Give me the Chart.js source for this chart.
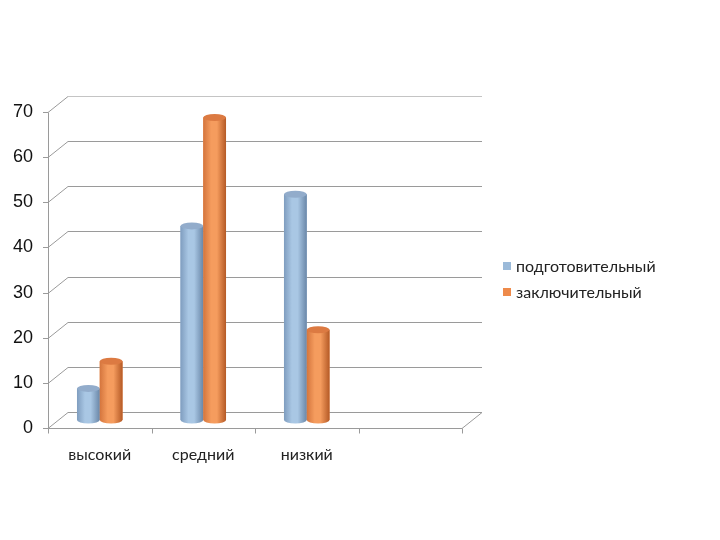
<!DOCTYPE html>
<html>
<head>
<meta charset="utf-8">
<script src="https://cdn.jsdelivr.net/npm/chart.js@4"></script>
<style>
  html, body { margin: 0; padding: 0; background: #fff; }
  #wrap { width: 720px; height: 540px; }
</style>
</head>
<body>
<div id="wrap"><canvas id="levelsChart"></canvas></div>
<script>
// data
const categories = ['высокий', 'средний', 'низкий', ''];
const seriesNames = ['подготовительный', 'заключительный'];
const prepValues = [7, 43, 50, null];
const finalValues = [13, 67, 20, null];
const yTicks = [0, 10, 20, 30, 40, 50, 60, 70];

// cylinder shading: left edge, highlight, right edge, top cap
const shades = [
    ['#7f9dbf', '#a9c7e4', '#6a87a8', '#92accb'],
    ['#d4753d', '#f59c5e', '#b55a26', '#dc7a42']
];
const DX = 10, DY = 8;  // half depth of the 3d box

function drawCylinder(ctx, x, top, base, w, c) {
    const l = x - w / 2, r = x + w / 2, ry = 3.5;
    const g = ctx.createLinearGradient(l, 0, r, 0);
    g.addColorStop(0, c[0]);
    g.addColorStop(0.35, c[1]);
    g.addColorStop(0.6, c[1]);
    g.addColorStop(1, c[2]);
    ctx.fillStyle = g;
    ctx.beginPath();
    ctx.moveTo(l, top);
    ctx.lineTo(l, base);
    ctx.ellipse(x, base, w / 2, ry, 0, Math.PI, 0, true);
    ctx.lineTo(r, top);
    ctx.closePath();
    ctx.fill();
    ctx.fillStyle = c[3];
    ctx.beginPath();
    ctx.ellipse(x, top, w / 2, ry, 0, 0, Math.PI * 2);
    ctx.fill();
}

const box3d = {
    id: 'box3d',
    beforeDatasetsDraw(chart) {
        const ctx = chart.ctx, y = chart.scales.y, a = chart.chartArea;
        ctx.save();
        ctx.lineWidth = 1;
        yTicks.forEach(v => {
            const py = Math.round(y.getPixelForValue(v)) + 0.5;
            ctx.strokeStyle = v === 70 ? '#c4c4c4' : '#9a9a9a';
            ctx.beginPath();
            ctx.moveTo(a.left + 2 * DX, py - DY);
            ctx.lineTo(a.right + 2 * DX, py - DY);
            ctx.stroke();
            ctx.strokeStyle = '#9a9a9a';
            ctx.beginPath();
            ctx.moveTo(a.left, py + DY);
            ctx.lineTo(a.left + 2 * DX, py - DY);
            ctx.moveTo(a.left - 5, py + DY);
            ctx.lineTo(a.left, py + DY);
            ctx.stroke();
        });
        const y0 = Math.round(y.getPixelForValue(0)) + 0.5;
        const yTop = Math.round(y.getPixelForValue(70)) + 0.5;
        const lx = Math.round(a.left) + 0.5;
        ctx.strokeStyle = '#9a9a9a';
        ctx.beginPath();
        ctx.moveTo(lx, yTop + DY);
        ctx.lineTo(lx, y0 + DY);
        ctx.lineTo(a.right, y0 + DY);
        ctx.lineTo(a.right + 2 * DX, y0 - DY);
        ctx.stroke();
        const step = (a.right - a.left) / categories.length;
        for (let i = 0; i <= categories.length; i++) {
            const tx = Math.round(a.left + i * step) + 0.5;
            ctx.beginPath();
            ctx.moveTo(tx, y0 + DY);
            ctx.lineTo(tx, y0 + DY + 5);
            ctx.stroke();
        }
        ctx.restore();
    },
    afterDatasetsDraw(chart) {
        const ctx = chart.ctx;
        ctx.save();
        chart.data.datasets.forEach((ds, i) => {
            chart.getDatasetMeta(i).data.forEach((bar, j) => {
                if (ds.data[j] == null) return;
                const p = bar.getProps(['x', 'y', 'base', 'width'], true);
                drawCylinder(ctx, p.x, p.y, p.base, p.width, shades[i]);
            });
        });
        ctx.restore();
    },
    afterDraw(chart) {
        const ctx = chart.ctx;
        ctx.save();
        ctx.font = '16px Lato';
        ctx.textBaseline = 'middle';
        chart.data.datasets.forEach((ds, i) => {
            const ly = 266 + i * 26;
            ctx.fillStyle = ds.backgroundColor;
            ctx.fillRect(503, ly - 4, 8, 8);
            ctx.fillStyle = '#222';
            ctx.fillText(ds.label, 516, ly + 1);
        });
        ctx.restore();
    }
};

new Chart(document.getElementById('levelsChart'), {
    type: 'bar',
    data: {
        labels: categories,
        datasets: [
            { label: seriesNames[0], data: prepValues, backgroundColor: '#9bbad9' },
            { label: seriesNames[1], data: finalValues, backgroundColor: '#ee8a4a' }
        ]
    },
    options: {
        responsive: true,
        maintainAspectRatio: false,
        animation: false,
        layout: { padding: { top: 104, right: 258, bottom: 0, left: 0 } },
        categoryPercentage: 0.44,
        barPercentage: 1,
        plugins: { legend: { display: false }, tooltip: { enabled: false } },
        scales: {
            x: {
                grid: { display: false, drawTicks: false },
                border: { display: false },
                ticks: { color: '#222', font: { family: 'Lato', size: 16 }, padding: 25, maxRotation: 0 },
                afterFit: s => { s.height = 120; }
            },
            y: {
                min: 0, max: 70,
                grid: { display: false, drawTicks: false },
                border: { display: false },
                ticks: { stepSize: 10, color: '#111', font: { family: 'Liberation Sans', size: 18 }, padding: 15, labelOffset: 8 },
                afterFit: s => { s.width = 48; }
            }
        }
    },
    plugins: [box3d]
});
</script>
</body>
</html>
